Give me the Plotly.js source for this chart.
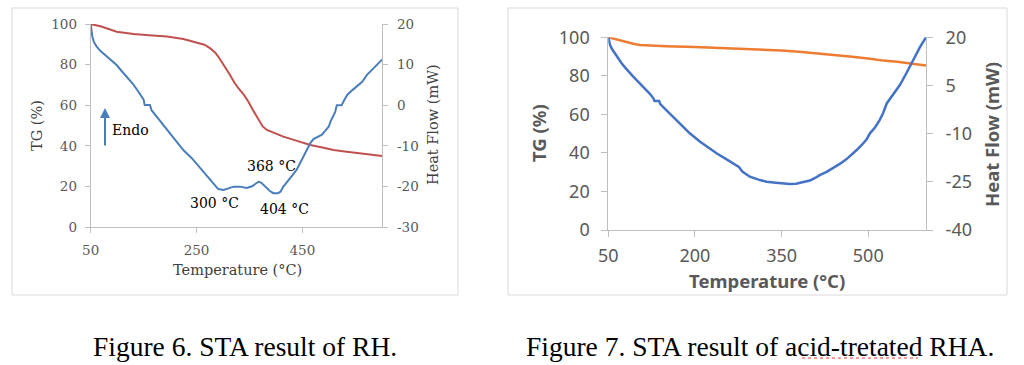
<!DOCTYPE html>
<html><head><meta charset="utf-8">
<script src="https://cdn.plot.ly/plotly-3.0.1.min.js"></script>
<style>html,body{margin:0;padding:0;background:#fff;}#chart{width:1024px;height:365px;}</style>
</head><body><div id="chart"></div>
<script>
// ---------- Figure 6: STA result of RH ----------
const rhTempTG = [50, 70, 99, 131, 160, 194, 225, 250, 265, 276, 285, 291, 300, 313, 322, 329, 340, 348, 357, 364, 370, 375, 383, 395, 414, 440, 465, 490, 509, 530, 547, 575, 601];
const rhTG     = [100, 98.8, 96.2, 95.1, 94.5, 93.8, 92.6, 91, 89.8, 88, 86, 84, 80.5, 75, 71, 68.4, 65, 61.8, 57.5, 54.4, 51.5, 49.6, 47.9, 46.5, 44.6, 42.5, 40.5, 39.1, 38, 37.3, 36.7, 35.9, 35.1];
const rhTempHF = [50, 51, 53, 56, 61, 68, 80, 88, 99, 108, 118, 130, 140, 150, 152, 162, 165, 180, 194, 210, 225, 241, 257, 270, 279, 286, 291, 301, 310, 320, 332, 345, 355, 362, 367, 372, 380, 388, 395, 404, 409, 414, 425, 439, 452, 465, 471, 480, 487, 495, 500, 503, 508, 512, 515, 524, 530, 535, 545, 553, 563, 572, 583, 593, 601];
const rhHF     = [20, 18.5, 17, 15.6, 14.5, 13.4, 12, 11, 9.9, 8.5, 7, 5.2, 3.4, 1.4, 0.1, 0.1, -1.2, -3.6, -6.1, -8.6, -11, -13, -15.5, -17.4, -18.8, -19.8, -20.6, -20.8, -20.4, -20.0, -20.0, -20.3, -19.9, -19.2, -18.8, -19.0, -20.0, -21.0, -21.6, -21.6, -21.2, -20, -18.2, -15.9, -12.6, -9.3, -8.3, -7.6, -7.2, -6.0, -5.2, -4, -2.8, -1.6, 0, 0, 1.5, 2.6, 3.8, 4.6, 5.8, 7.5, 8.9, 10.3, 11.3];
const fig6XTicks = [50, 250, 450];
const fig6TGTicks = [0, 20, 40, 60, 80, 100];
const fig6HFTicks = [-30, -20, -10, 0, 10, 20];
const fig6HFTickText = ['-30', '-20', '-10', '0', '10', '20'];
const fig6PeakLabels = ['300 °C', '368 °C', '404 °C'];

// ---------- Figure 7: STA result of acid-treated RHA ----------
const rhaTempTG = [50, 60, 70, 82, 95, 105, 122, 150, 200, 266, 310, 350, 380, 411, 440, 468, 500, 526, 550, 572, 590, 600];
const rhaTG     = [100, 99.2, 98.3, 97.2, 96.5, 96, 95.7, 95.4, 95, 94.3, 93.8, 93.1, 92.5, 91.7, 90.9, 90, 89, 87.9, 87.3, 86.5, 85.8, 85.3];
const rhaTempHF = [50, 51, 53, 57, 61.5, 67, 73, 80, 85, 92, 99, 108, 116, 122, 128, 130, 138, 140, 150, 162, 177, 191, 209, 223, 238, 252, 266, 276, 282, 295, 310, 324, 340, 353, 364, 375, 382, 390, 399, 408, 416, 428, 439, 450, 462, 472, 480, 490, 497, 503, 512, 520, 526, 532, 537, 546, 555, 566, 578, 590, 600];
const rhaHF     = [20, 18.8, 17.6, 16.2, 15, 13.4, 11.9, 10.4, 9.3, 8, 6.7, 5.1, 3.6, 2.4, 1, 0.2, 0.2, -0.8, -2.6, -4.7, -7.3, -9.9, -12.5, -14.3, -16.2, -17.7, -19.2, -20.4, -21.8, -23.4, -24.3, -25, -25.3, -25.5, -25.7, -25.6, -25.3, -25.1, -24.6, -23.8, -22.9, -21.9, -20.8, -19.5, -18, -16.5, -15.1, -13.3, -11.8, -9.9, -8, -5.7, -3.5, -0.6, 0.7, 2.9, 5.2, 8.8, 12.9, 17.1, 20];
const fig7XTicks = [50, 200, 350, 500];
const fig7TGTicks = [0, 20, 40, 60, 80, 100];
const fig7HFTicks = [-40, -25, -10, 5, 20];
const fig7HFTickText = ['-40', '-25', '-10', '5', '20'];

const captions = ['Figure 6. STA result of RH.', 'Figure 7. STA result of acid-tretated RHA.'];
const axisTitles = ['TG (%)', 'Heat Flow (mW)', 'Temperature (°C)'];

// ---------- helpers (page pixels -> paper) ----------
const W = 1024, H = 365;
const px = x => x / W;
const py = y => 1 - y / H;

const serif = 'DejaVu Serif, serif';
const sans = 'Noto Sans, Open Sans, sans-serif';
const grey = '#595959';
const axisGrey = '#bfbfbf';

function axBase(font, standoff, ticklen) {
  return {
    showline: true, linecolor: axisGrey, linewidth: 1,
    ticks: 'outside', ticklen: ticklen, tickcolor: axisGrey, tickwidth: 1,
    showgrid: false, zeroline: false, fixedrange: true,
    tickfont: font, ticklabelstandoff: standoff
  };
}
const f6Tick = {family: serif, size: 13.5, color: grey};
const f7Tick = {family: sans, size: 18, color: grey};

const traces = [
  {x: rhTempTG, y: rhTG, xaxis: 'x', yaxis: 'y', mode: 'lines', line: {color: '#c0504d', width: 2}, hoverinfo: 'skip'},
  {x: rhTempHF, y: rhHF, xaxis: 'x', yaxis: 'y2', mode: 'lines', line: {color: '#4a7ebb', width: 2}, hoverinfo: 'skip'},
  {x: rhaTempTG, y: rhaTG, xaxis: 'x2', yaxis: 'y3', mode: 'lines', line: {color: '#ed7d31', width: 2.5}, hoverinfo: 'skip'},
  {x: rhaTempHF, y: rhaHF, xaxis: 'x2', yaxis: 'y4', mode: 'lines', line: {color: '#4472c4', width: 2.5}, hoverinfo: 'skip'}
];

function ann(text, x, y, font, extra) {
  return Object.assign({text: text, x: px(x), y: py(y), xref: 'paper', yref: 'paper',
    showarrow: false, font: font, xanchor: 'center', yanchor: 'middle'}, extra || {});
}
const f6Title = {family: serif, size: 14.5, color: '#404040'};
const f7Title = {family: sans, size: 18.5, color: grey};
const annFont = {family: serif, size: 14, color: '#000'};
const capFont = {family: 'Liberation Serif, Times New Roman, serif', size: 27.5, color: '#000'};

const layout = {
  width: W, height: H,
  margin: {l: 0, r: 0, t: 0, b: 0},
  paper_bgcolor: '#fff', plot_bgcolor: 'rgba(0,0,0,0)',
  showlegend: false,
  xaxis: Object.assign(axBase(f6Tick, 5, 5), {domain: [px(90.7), px(382.3)], range: [50, 601], anchor: 'y', tickvals: fig6XTicks}),
  yaxis: Object.assign(axBase(f6Tick, 5, 5), {domain: [py(227.3), py(24)], range: [0, 100], anchor: 'x', tickvals: fig6TGTicks}),
  yaxis2: Object.assign(axBase(f6Tick, 6, 5), {overlaying: 'y', side: 'right', anchor: 'x', range: [-30, 20], tickvals: fig6HFTicks, ticktext: fig6HFTickText}),
  xaxis2: Object.assign(axBase(f7Tick, 3, 6), {domain: [px(608.3), px(926)], range: [50, 600], anchor: 'y3', tickvals: fig7XTicks}),
  yaxis3: Object.assign(axBase(f7Tick, 8, 6), {domain: [py(230), py(37.3)], range: [0, 100], anchor: 'x2', tickvals: fig7TGTicks}),
  yaxis4: Object.assign(axBase(f7Tick, 9, 6), {overlaying: 'y3', side: 'right', anchor: 'x2', range: [-40, 20], tickvals: fig7HFTicks, ticktext: fig7HFTickText}),
  shapes: [
    {type: 'rect', xref: 'paper', yref: 'paper', x0: px(12), x1: px(458), y0: py(295), y1: py(8), line: {color: '#d9d9d9', width: 1}},
    {type: 'rect', xref: 'paper', yref: 'paper', x0: px(508), x1: px(1007), y0: py(295), y1: py(8), line: {color: '#d9d9d9', width: 1}},
    {type: 'line', xref: 'paper', yref: 'paper', x0: px(802), x1: px(918), y0: py(358), y1: py(358), line: {color: '#ff3030', width: 1, dash: 'dot'}}
  ],
  annotations: [
    // Figure 6 axis titles
    ann(axisTitles[0], 37, 126, f6Title, {textangle: -90}),
    ann(axisTitles[1], 433, 125, f6Title, {textangle: -90}),
    ann(axisTitles[2], 237, 270, f6Title),
    // Figure 6 labels
    ann(fig6PeakLabels[0], 214, 203, annFont),
    ann(fig6PeakLabels[1], 271.5, 166.5, annFont),
    ann(fig6PeakLabels[2], 284, 209, annFont),
    ann('Endo', 130, 130.5, annFont),
    {text: '', x: px(105), y: py(108), xref: 'paper', yref: 'paper', showarrow: true, ax: 0, ay: 39,
     arrowhead: 2, arrowsize: 1, arrowwidth: 2, arrowcolor: '#4a7ebb'},
    // Figure 7 axis titles
    ann(axisTitles[0], 539, 133, f7Title, {textangle: -90, text: '<b>' + axisTitles[0] + '</b>'}),
    ann(axisTitles[1], 992, 135, f7Title, {textangle: -90, text: '<b>' + axisTitles[1] + '</b>'}),
    ann(axisTitles[2], 767, 280, f7Title, {text: '<b>' + axisTitles[2] + '</b>'}),
    // captions
    ann(captions[0], 245, 346, capFont),
    ann(captions[1], 760, 346, capFont)
  ]
};

Plotly.newPlot('chart', traces, layout, {staticPlot: true, displayModeBar: false});
</script>
</body></html>
